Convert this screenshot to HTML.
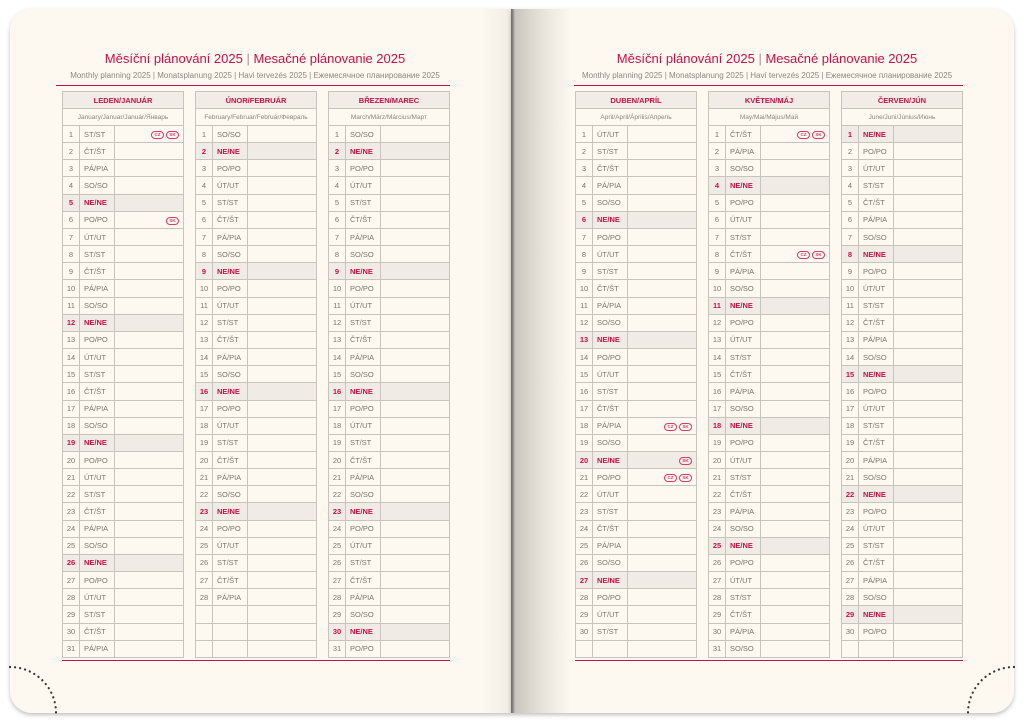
<!DOCTYPE html>
<html><head><meta charset="utf-8"><style>
body{margin:0;width:1024px;height:723px;background:#fff;position:relative;overflow:hidden;font-family:"Liberation Sans",sans-serif}
.pg{position:absolute;top:9px;height:704px;background:#fdf9f0}
#L{left:10px;width:501px;border-radius:22px 0 0 22px;box-shadow:0 2px 4px rgba(0,0,0,.25);background:linear-gradient(90deg,#fdf9f0 0,#fdf9f0 470px,#f1ede4 501px)}
#R{left:511px;width:503px;border-radius:0 22px 22px 0;box-shadow:0 2px 4px rgba(0,0,0,.25);background:linear-gradient(90deg,#6f6c68 0,#8c8984 2px,#c9c5bd 4px,#dcd8d0 20px,#efeae1 40px,#fdf9f0 60px)}
.t{position:absolute;top:51px;width:420px;text-align:center;color:#c8104a;font-size:13px}
.st{position:absolute;top:71px;width:420px;text-align:center;color:#8c8882;font-size:8px}
.rl{position:absolute;height:1px;background:#c8104a}
table{position:absolute;top:91px;border-collapse:collapse;width:122px;table-layout:fixed;border:1.5px solid #bdb8b0}
td{border:1px solid #c9c4bb;height:16.16px;padding:0;font-size:7.5px;color:#7a7670;overflow:hidden;white-space:nowrap}
td:first-child{text-align:center}
td:nth-child(2){padding-left:4px}
tr.h td{height:16px;background:#f1ece5;color:#c8104a;font-weight:bold;text-align:center;padding:0;font-size:7.5px}
tr.u td{height:16px;text-align:center;padding:0;font-size:6.5px;color:#8a857e}
tr.s td{background:#f0ebe4;color:#c8104a;font-weight:bold}
b.c{display:inline-block;border:1px solid #d43a6a;border-radius:5px;font-size:4.5px;color:#d43a6a;width:11px;height:6px;line-height:6px;text-align:center;margin-left:2px;font-weight:bold}
td.b{text-align:right;padding-right:4px}
</style></head><body>
<div class="pg" id="L"></div><div class="pg" id="R"></div>
<svg width="1024" height="723" style="position:absolute;left:0;top:0">
<path d="M10,667 A46,46 0 0 1 56,713" fill="none" stroke="#333" stroke-width="2.2" stroke-dasharray="0.1 5" stroke-linecap="round"/>
<path d="M1014,667 A46,46 0 0 0 968,713" fill="none" stroke="#333" stroke-width="2.2" stroke-dasharray="0.1 5" stroke-linecap="round"/>
</svg>
<div class="t" style="left:45px">Měsíční plánování 2025 <span style="color:#999">|</span> Mesačné plánovanie 2025</div>
<div class="st" style="left:45px">Monthly planning 2025 | Monatsplanung 2025 | Havi tervezés 2025 | Ежемесячное планирование 2025</div>
<div class="rl" style="left:56px;width:394px;top:85px"></div>
<div class="rl" style="left:62px;width:388px;top:660px"></div>
<div class="t" style="left:557px">Měsíční plánování 2025 <span style="color:#999">|</span> Mesačné plánovanie 2025</div>
<div class="st" style="left:557px">Monthly planning 2025 | Monatsplanung 2025 | Haví tervezés 2025 | Ежемесячное планирование 2025</div>
<div class="rl" style="left:574px;width:389px;top:85px"></div>
<div class="rl" style="left:575px;width:388px;top:660px"></div>

<table style="left:62px"><colgroup><col style="width:17px"><col style="width:35px"><col></colgroup><tr class=h><td colspan=3>LEDEN/JANUÁR</tr><tr class=u><td colspan=3>January/Januar/Január/Январь</tr>
<tr><td>1<td>ST/ST<td class=b><b class=c>CZ</b><b class=c>SK</b></tr><tr><td>2<td>ČT/ŠT<td></tr><tr><td>3<td>PÁ/PIA<td></tr><tr><td>4<td>SO/SO<td></tr><tr class=s><td>5<td>NE/NE<td></tr>
<tr><td>6<td>PO/PO<td class=b><b class=c>SK</b></tr><tr><td>7<td>ÚT/UT<td></tr><tr><td>8<td>ST/ST<td></tr><tr><td>9<td>ČT/ŠT<td></tr><tr><td>10<td>PÁ/PIA<td></tr><tr><td>11<td>SO/SO<td></tr><tr class=s><td>12<td>NE/NE<td></tr>
<tr><td>13<td>PO/PO<td></tr><tr><td>14<td>ÚT/UT<td></tr><tr><td>15<td>ST/ST<td></tr><tr><td>16<td>ČT/ŠT<td></tr><tr><td>17<td>PÁ/PIA<td></tr><tr><td>18<td>SO/SO<td></tr><tr class=s><td>19<td>NE/NE<td></tr>
<tr><td>20<td>PO/PO<td></tr><tr><td>21<td>ÚT/UT<td></tr><tr><td>22<td>ST/ST<td></tr><tr><td>23<td>ČT/ŠT<td></tr><tr><td>24<td>PÁ/PIA<td></tr><tr><td>25<td>SO/SO<td></tr><tr class=s><td>26<td>NE/NE<td></tr>
<tr><td>27<td>PO/PO<td></tr><tr><td>28<td>ÚT/UT<td></tr><tr><td>29<td>ST/ST<td></tr><tr><td>30<td>ČT/ŠT<td></tr><tr><td>31<td>PÁ/PIA<td></tr></table>

<table style="left:195px"><colgroup><col style="width:17px"><col style="width:35px"><col></colgroup><tr class=h><td colspan=3>ÚNOR/FEBRUÁR</tr><tr class=u><td colspan=3>February/Februar/Február/Февраль</tr>
<tr><td>1<td>SO/SO<td></tr><tr class=s><td>2<td>NE/NE<td></tr>
<tr><td>3<td>PO/PO<td></tr><tr><td>4<td>ÚT/UT<td></tr><tr><td>5<td>ST/ST<td></tr><tr><td>6<td>ČT/ŠT<td></tr><tr><td>7<td>PÁ/PIA<td></tr><tr><td>8<td>SO/SO<td></tr><tr class=s><td>9<td>NE/NE<td></tr>
<tr><td>10<td>PO/PO<td></tr><tr><td>11<td>ÚT/UT<td></tr><tr><td>12<td>ST/ST<td></tr><tr><td>13<td>ČT/ŠT<td></tr><tr><td>14<td>PÁ/PIA<td></tr><tr><td>15<td>SO/SO<td></tr><tr class=s><td>16<td>NE/NE<td></tr>
<tr><td>17<td>PO/PO<td></tr><tr><td>18<td>ÚT/UT<td></tr><tr><td>19<td>ST/ST<td></tr><tr><td>20<td>ČT/ŠT<td></tr><tr><td>21<td>PÁ/PIA<td></tr><tr><td>22<td>SO/SO<td></tr><tr class=s><td>23<td>NE/NE<td></tr>
<tr><td>24<td>PO/PO<td></tr><tr><td>25<td>ÚT/UT<td></tr><tr><td>26<td>ST/ST<td></tr><tr><td>27<td>ČT/ŠT<td></tr><tr><td>28<td>PÁ/PIA<td></tr><tr><td><td><td></tr><tr><td><td><td></tr><tr><td><td><td></tr></table>

<table style="left:328px"><colgroup><col style="width:17px"><col style="width:35px"><col></colgroup><tr class=h><td colspan=3>BŘEZEN/MAREC</tr><tr class=u><td colspan=3>March/März/Március/Март</tr>
<tr><td>1<td>SO/SO<td></tr><tr class=s><td>2<td>NE/NE<td></tr>
<tr><td>3<td>PO/PO<td></tr><tr><td>4<td>ÚT/UT<td></tr><tr><td>5<td>ST/ST<td></tr><tr><td>6<td>ČT/ŠT<td></tr><tr><td>7<td>PÁ/PIA<td></tr><tr><td>8<td>SO/SO<td></tr><tr class=s><td>9<td>NE/NE<td></tr>
<tr><td>10<td>PO/PO<td></tr><tr><td>11<td>ÚT/UT<td></tr><tr><td>12<td>ST/ST<td></tr><tr><td>13<td>ČT/ŠT<td></tr><tr><td>14<td>PÁ/PIA<td></tr><tr><td>15<td>SO/SO<td></tr><tr class=s><td>16<td>NE/NE<td></tr>
<tr><td>17<td>PO/PO<td></tr><tr><td>18<td>ÚT/UT<td></tr><tr><td>19<td>ST/ST<td></tr><tr><td>20<td>ČT/ŠT<td></tr><tr><td>21<td>PÁ/PIA<td></tr><tr><td>22<td>SO/SO<td></tr><tr class=s><td>23<td>NE/NE<td></tr>
<tr><td>24<td>PO/PO<td></tr><tr><td>25<td>ÚT/UT<td></tr><tr><td>26<td>ST/ST<td></tr><tr><td>27<td>ČT/ŠT<td></tr><tr><td>28<td>PÁ/PIA<td></tr><tr><td>29<td>SO/SO<td></tr><tr class=s><td>30<td>NE/NE<td></tr><tr><td>31<td>PO/PO<td></tr></table>

<table style="left:575px"><colgroup><col style="width:17px"><col style="width:35px"><col></colgroup><tr class=h><td colspan=3>DUBEN/APRÍL</tr><tr class=u><td colspan=3>April/April/Április/Апрель</tr>
<tr><td>1<td>ÚT/UT<td></tr><tr><td>2<td>ST/ST<td></tr><tr><td>3<td>ČT/ŠT<td></tr><tr><td>4<td>PÁ/PIA<td></tr><tr><td>5<td>SO/SO<td></tr><tr class=s><td>6<td>NE/NE<td></tr>
<tr><td>7<td>PO/PO<td></tr><tr><td>8<td>ÚT/UT<td></tr><tr><td>9<td>ST/ST<td></tr><tr><td>10<td>ČT/ŠT<td></tr><tr><td>11<td>PÁ/PIA<td></tr><tr><td>12<td>SO/SO<td></tr><tr class=s><td>13<td>NE/NE<td></tr>
<tr><td>14<td>PO/PO<td></tr><tr><td>15<td>ÚT/UT<td></tr><tr><td>16<td>ST/ST<td></tr><tr><td>17<td>ČT/ŠT<td></tr><tr><td>18<td>PÁ/PIA<td class=b><b class=c>CZ</b><b class=c>SK</b></tr><tr><td>19<td>SO/SO<td></tr><tr class=s><td>20<td>NE/NE<td class=b><b class=c>SK</b></tr>
<tr><td>21<td>PO/PO<td class=b><b class=c>CZ</b><b class=c>SK</b></tr><tr><td>22<td>ÚT/UT<td></tr><tr><td>23<td>ST/ST<td></tr><tr><td>24<td>ČT/ŠT<td></tr><tr><td>25<td>PÁ/PIA<td></tr><tr><td>26<td>SO/SO<td></tr><tr class=s><td>27<td>NE/NE<td></tr>
<tr><td>28<td>PO/PO<td></tr><tr><td>29<td>ÚT/UT<td></tr><tr><td>30<td>ST/ST<td></tr><tr><td><td><td></tr></table>

<table style="left:708px"><colgroup><col style="width:17px"><col style="width:35px"><col></colgroup><tr class=h><td colspan=3>KVĚTEN/MÁJ</tr><tr class=u><td colspan=3>May/Mai/Május/Май</tr>
<tr><td>1<td>ČT/ŠT<td class=b><b class=c>CZ</b><b class=c>SK</b></tr><tr><td>2<td>PÁ/PIA<td></tr><tr><td>3<td>SO/SO<td></tr><tr class=s><td>4<td>NE/NE<td></tr>
<tr><td>5<td>PO/PO<td></tr><tr><td>6<td>ÚT/UT<td></tr><tr><td>7<td>ST/ST<td></tr><tr><td>8<td>ČT/ŠT<td class=b><b class=c>CZ</b><b class=c>SK</b></tr><tr><td>9<td>PÁ/PIA<td></tr><tr><td>10<td>SO/SO<td></tr><tr class=s><td>11<td>NE/NE<td></tr>
<tr><td>12<td>PO/PO<td></tr><tr><td>13<td>ÚT/UT<td></tr><tr><td>14<td>ST/ST<td></tr><tr><td>15<td>ČT/ŠT<td></tr><tr><td>16<td>PÁ/PIA<td></tr><tr><td>17<td>SO/SO<td></tr><tr class=s><td>18<td>NE/NE<td></tr>
<tr><td>19<td>PO/PO<td></tr><tr><td>20<td>ÚT/UT<td></tr><tr><td>21<td>ST/ST<td></tr><tr><td>22<td>ČT/ŠT<td></tr><tr><td>23<td>PÁ/PIA<td></tr><tr><td>24<td>SO/SO<td></tr><tr class=s><td>25<td>NE/NE<td></tr>
<tr><td>26<td>PO/PO<td></tr><tr><td>27<td>ÚT/UT<td></tr><tr><td>28<td>ST/ST<td></tr><tr><td>29<td>ČT/ŠT<td></tr><tr><td>30<td>PÁ/PIA<td></tr><tr><td>31<td>SO/SO<td></tr></table>

<table style="left:841px"><colgroup><col style="width:17px"><col style="width:35px"><col></colgroup><tr class=h><td colspan=3>ČERVEN/JÚN</tr><tr class=u><td colspan=3>June/Juni/Június/Июнь</tr>
<tr class=s><td>1<td>NE/NE<td></tr>
<tr><td>2<td>PO/PO<td></tr><tr><td>3<td>ÚT/UT<td></tr><tr><td>4<td>ST/ST<td></tr><tr><td>5<td>ČT/ŠT<td></tr><tr><td>6<td>PÁ/PIA<td></tr><tr><td>7<td>SO/SO<td></tr><tr class=s><td>8<td>NE/NE<td></tr>
<tr><td>9<td>PO/PO<td></tr><tr><td>10<td>ÚT/UT<td></tr><tr><td>11<td>ST/ST<td></tr><tr><td>12<td>ČT/ŠT<td></tr><tr><td>13<td>PÁ/PIA<td></tr><tr><td>14<td>SO/SO<td></tr><tr class=s><td>15<td>NE/NE<td></tr>
<tr><td>16<td>PO/PO<td></tr><tr><td>17<td>ÚT/UT<td></tr><tr><td>18<td>ST/ST<td></tr><tr><td>19<td>ČT/ŠT<td></tr><tr><td>20<td>PÁ/PIA<td></tr><tr><td>21<td>SO/SO<td></tr><tr class=s><td>22<td>NE/NE<td></tr>
<tr><td>23<td>PO/PO<td></tr><tr><td>24<td>ÚT/UT<td></tr><tr><td>25<td>ST/ST<td></tr><tr><td>26<td>ČT/ŠT<td></tr><tr><td>27<td>PÁ/PIA<td></tr><tr><td>28<td>SO/SO<td></tr><tr class=s><td>29<td>NE/NE<td></tr><tr><td>30<td>PO/PO<td></tr><tr><td><td><td></tr></table>
</body></html>
